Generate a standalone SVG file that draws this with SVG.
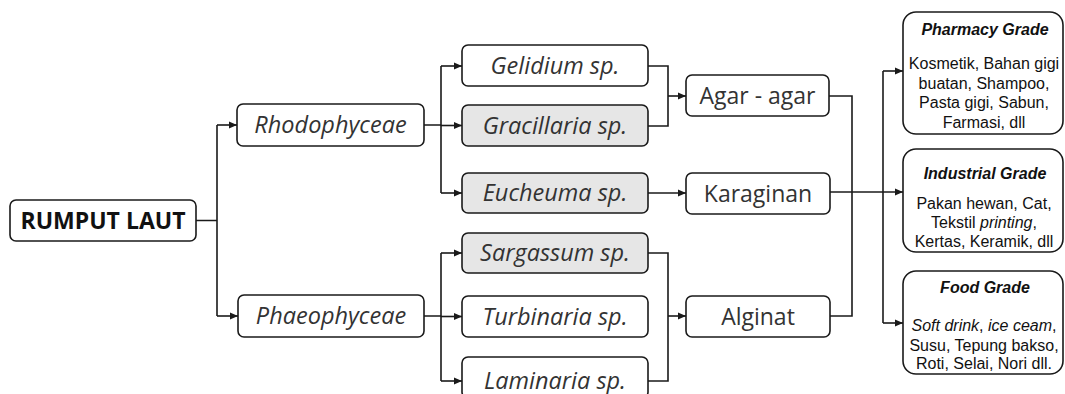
<svg xmlns="http://www.w3.org/2000/svg" width="1065" height="394" viewBox="0 0 1065 394">
<style>
.box{fill:#fff;stroke:#1a1a1a;stroke-width:1.6}
.gray{fill:#e6e6e6}
.t{font-family:"Open Sans","DejaVu Sans",sans-serif;font-size:23px;fill:#333;text-anchor:middle}
.i{font-style:italic;font-size:23.5px}
.b{font-weight:bold;fill:#111}
.g{font-family:"Liberation Sans",Arial,sans-serif;font-size:16px;fill:#111;text-anchor:middle}
.gh{font-weight:bold;font-style:italic}
.c{fill:none;stroke:#1a1a1a;stroke-width:1.6}
.a{marker-end:url(#ah)}
</style>
<defs>
<marker id="ah" markerUnits="userSpaceOnUse" markerWidth="9" markerHeight="8" refX="8" refY="4" orient="auto">
<path d="M0,0.5 L8,4 L0,7.5 z" fill="#1a1a1a"/>
</marker>
</defs>
<g id="connectors">
<path class="c" d="M196 220.5 H217 M217 125 V316"/>
<path class="c a" d="M217 125 H237"/>
<path class="c a" d="M217 316 H238"/>
<path class="c" d="M424 125 H441 M441 66 V193"/>
<path class="c a" d="M441 66 H462"/>
<path class="c a" d="M441 125.5 H462"/>
<path class="c a" d="M441 193 H462"/>
<path class="c" d="M424 316 H441 M441 253 V381"/>
<path class="c a" d="M441 253 H462"/>
<path class="c a" d="M441 316.5 H462"/>
<path class="c a" d="M441 381 H462"/>
<path class="c" d="M648 66 H668 V126 H648"/>
<path class="c a" d="M668 96 H686"/>
<path class="c a" d="M648 193 H686"/>
<path class="c" d="M648 253 H668 V381 H648"/>
<path class="c a" d="M668 316 H686"/>
<path class="c" d="M829 96 H852 V316 H830"/>
<path class="c a" d="M830 192 H903"/>
<path class="c" d="M883 71 V323"/>
<path class="c a" d="M883 71 H903"/>
<path class="c a" d="M883 323 H903"/>
</g>
<g id="rumput-laut"><rect class="box" x="10" y="200" width="186" height="41" rx="6"/><text class="t b" x="103" y="229" font-size="23.5">RUMPUT LAUT</text></g>
<g id="rhodophyceae"><rect class="box" x="237" y="104" width="187" height="42" rx="6"/><text class="t i" x="330.5" y="133">Rhodophyceae</text></g>
<g id="phaeophyceae"><rect class="box" x="238" y="295" width="186" height="42" rx="6"/><text class="t i" x="331" y="324">Phaeophyceae</text></g>
<g id="gelidium"><rect class="box" x="462" y="45" width="186" height="41" rx="6"/><text class="t i" x="555" y="73.5">Gelidium sp.</text></g>
<g id="gracillaria"><rect class="box gray" x="462" y="105" width="186" height="41" rx="6"/><text class="t i" x="555" y="133.5">Gracillaria sp.</text></g>
<g id="eucheuma"><rect class="box gray" x="462" y="173" width="186" height="40" rx="6"/><text class="t i" x="555" y="201">Eucheuma sp.</text></g>
<g id="sargassum"><rect class="box gray" x="462" y="233" width="186" height="40" rx="6"/><text class="t i" x="555" y="261">Sargassum sp.</text></g>
<g id="turbinaria"><rect class="box" x="462" y="296" width="186" height="41" rx="6"/><text class="t i" x="555" y="324.5">Turbinaria sp.</text></g>
<g id="laminaria"><rect class="box" x="462" y="357" width="186" height="41" rx="6"/><text class="t i" x="555" y="388.5">Laminaria sp.</text></g>
<g id="agar"><rect class="box" x="686" y="75" width="143" height="41" rx="6"/><text class="t" x="757.5" y="103.5">Agar - agar</text></g>
<g id="karaginan"><rect class="box" x="686" y="173" width="144" height="41" rx="6"/><text class="t" x="758" y="201.5">Karaginan</text></g>
<g id="alginat"><rect class="box" x="686" y="296" width="144" height="41" rx="6"/><text class="t" x="758" y="324.5">Alginat</text></g>
<g id="pharmacy"><rect class="box" x="903" y="12" width="160" height="122" rx="13"/>
<text class="g gh" x="985" y="35">Pharmacy Grade</text>
<text class="g" x="984" y="69">Kosmetik, Bahan gigi</text>
<text class="g" x="984" y="89">buatan, Shampoo,</text>
<text class="g" x="984" y="108">Pasta gigi, Sabun,</text>
<text class="g" x="984" y="128">Farmasi, dll</text></g>
<g id="industrial"><rect class="box" x="903" y="149" width="160" height="103" rx="13"/>
<text class="g gh" x="985" y="179">Industrial Grade</text>
<text class="g" x="984" y="209">Pakan hewan, Cat,</text>
<text class="g" x="984" y="228">Tekstil <tspan font-style="italic">printing</tspan>,</text>
<text class="g" x="984" y="247">Kertas, Keramik, dll</text></g>
<g id="food"><rect class="box" x="903" y="271" width="160" height="103" rx="13"/>
<text class="g gh" x="985" y="293">Food Grade</text>
<text class="g" x="984" y="331"><tspan font-style="italic">Soft drink</tspan>, <tspan font-style="italic">ice ceam</tspan>,</text>
<text class="g" x="984" y="351">Susu, Tepung bakso,</text>
<text class="g" x="984" y="369">Roti, Selai, Nori dll.</text></g>
</svg>
